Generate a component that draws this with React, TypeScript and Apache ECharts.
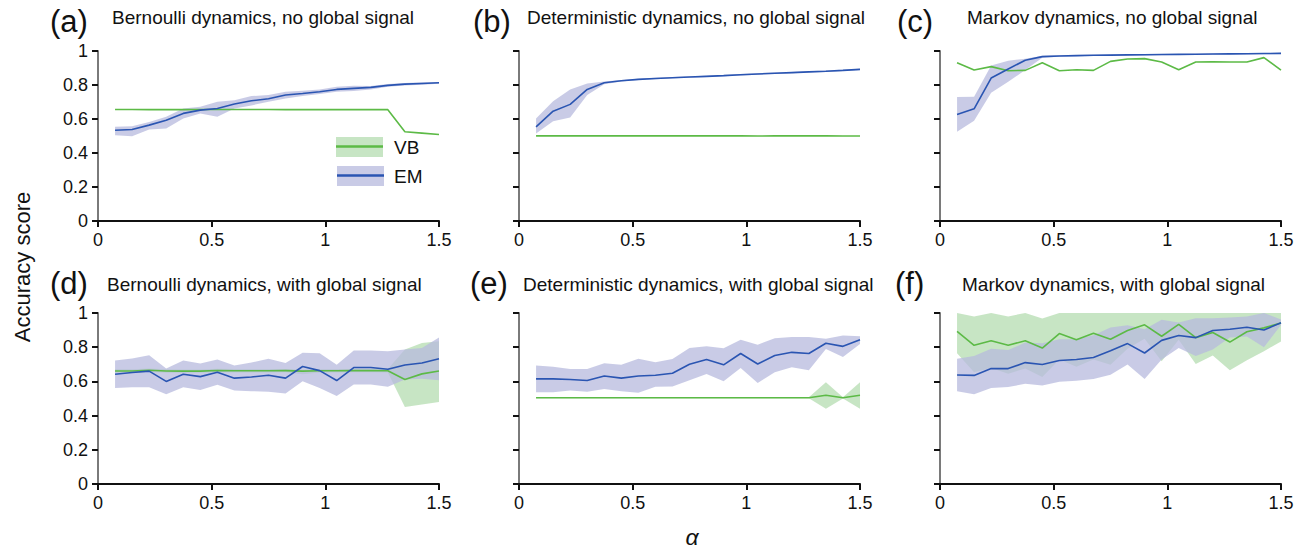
import React, { useEffect, useRef } from "react";
import * as echarts from "echarts";

// x positions (alpha)
const alphaValues = [0.075, 0.15, 0.225, 0.3, 0.375, 0.45, 0.525, 0.6, 0.675, 0.75, 0.825, 0.9, 0.975, 1.05, 1.125, 1.2, 1.275, 1.35, 1.425, 1.5];
const xTicks = [0, 0.5, 1, 1.5];
const yTicks = [0, 0.2, 0.4, 0.6, 0.8, 1];

// (a) Bernoulli, no global signal
const emA = [0.534, 0.538, 0.564, 0.593, 0.633, 0.652, 0.662, 0.688, 0.707, 0.719, 0.741, 0.75, 0.76, 0.774, 0.78, 0.786, 0.798, 0.805, 0.809, 0.813];
const emALo = [0.505, 0.499, 0.538, 0.544, 0.603, 0.633, 0.613, 0.662, 0.68, 0.701, 0.721, 0.735, 0.747, 0.76, 0.764, 0.774, 0.79, 0.797, 0.802, 0.808];
const emAHi = [0.554, 0.558, 0.583, 0.613, 0.662, 0.672, 0.701, 0.711, 0.735, 0.741, 0.76, 0.766, 0.774, 0.79, 0.796, 0.794, 0.806, 0.812, 0.816, 0.818];
const vbA = [0.656, 0.656, 0.655, 0.656, 0.655, 0.656, 0.656, 0.656, 0.656, 0.656, 0.655, 0.655, 0.655, 0.655, 0.655, 0.656, 0.655, 0.525, 0.517, 0.509];

// (b) Deterministic, no global signal
const emB = [0.554, 0.646, 0.686, 0.774, 0.813, 0.825, 0.833, 0.838, 0.843, 0.847, 0.851, 0.855, 0.86, 0.865, 0.869, 0.873, 0.877, 0.881, 0.886, 0.892];
const emBLo = [0.515, 0.587, 0.609, 0.741, 0.805, 0.82, 0.829, 0.834, 0.839, 0.843, 0.847, 0.851, 0.856, 0.861, 0.865, 0.869, 0.873, 0.877, 0.882, 0.888];
const emBHi = [0.603, 0.705, 0.774, 0.809, 0.82, 0.83, 0.837, 0.842, 0.847, 0.851, 0.855, 0.859, 0.864, 0.869, 0.873, 0.877, 0.881, 0.885, 0.89, 0.896];
const vbB = [0.501, 0.501, 0.501, 0.501, 0.501, 0.501, 0.501, 0.501, 0.501, 0.501, 0.501, 0.501, 0.501, 0.5, 0.501, 0.501, 0.501, 0.501, 0.5, 0.5];

// (c) Markov, no global signal
const emC = [0.627, 0.66, 0.841, 0.894, 0.946, 0.967, 0.971, 0.973, 0.975, 0.976, 0.977, 0.978, 0.979, 0.98, 0.981, 0.982, 0.983, 0.984, 0.985, 0.986];
const emCLo = [0.525, 0.589, 0.754, 0.819, 0.888, 0.96, 0.966, 0.969, 0.971, 0.972, 0.973, 0.974, 0.975, 0.976, 0.977, 0.978, 0.979, 0.98, 0.981, 0.982];
const emCHi = [0.729, 0.731, 0.914, 0.943, 0.955, 0.972, 0.975, 0.976, 0.978, 0.979, 0.98, 0.981, 0.982, 0.983, 0.984, 0.985, 0.986, 0.987, 0.988, 0.989];
const vbC = [0.931, 0.888, 0.908, 0.884, 0.886, 0.931, 0.884, 0.89, 0.886, 0.939, 0.953, 0.955, 0.935, 0.89, 0.935, 0.937, 0.935, 0.935, 0.961, 0.888];

// (d) Bernoulli, with global signal
const emD = [0.642, 0.652, 0.66, 0.6, 0.642, 0.628, 0.654, 0.619, 0.626, 0.636, 0.619, 0.687, 0.663, 0.605, 0.681, 0.681, 0.671, 0.696, 0.708, 0.732];
const emDLo = [0.562, 0.566, 0.566, 0.525, 0.566, 0.55, 0.58, 0.547, 0.543, 0.539, 0.529, 0.601, 0.562, 0.514, 0.582, 0.582, 0.568, 0.611, 0.615, 0.607];
const emDHi = [0.722, 0.734, 0.753, 0.675, 0.722, 0.704, 0.728, 0.693, 0.71, 0.733, 0.708, 0.767, 0.765, 0.698, 0.78, 0.78, 0.776, 0.786, 0.796, 0.856];
const vbD = [0.661, 0.661, 0.665, 0.661, 0.66, 0.66, 0.664, 0.662, 0.662, 0.662, 0.663, 0.66, 0.662, 0.662, 0.663, 0.663, 0.662, 0.611, 0.644, 0.661];
const vbDLo = [0.651, 0.651, 0.655, 0.651, 0.65, 0.65, 0.654, 0.652, 0.652, 0.652, 0.653, 0.642, 0.652, 0.652, 0.653, 0.653, 0.652, 0.451, 0.465, 0.479];
const vbDHi = [0.671, 0.671, 0.675, 0.671, 0.67, 0.67, 0.674, 0.672, 0.672, 0.672, 0.673, 0.67, 0.672, 0.672, 0.673, 0.673, 0.672, 0.786, 0.825, 0.835];

// (e) Deterministic, with global signal
const emE = [0.615, 0.615, 0.611, 0.605, 0.632, 0.619, 0.632, 0.636, 0.648, 0.7, 0.728, 0.697, 0.763, 0.702, 0.751, 0.77, 0.763, 0.823, 0.805, 0.844];
const emELo = [0.537, 0.537, 0.547, 0.539, 0.556, 0.543, 0.533, 0.568, 0.57, 0.607, 0.644, 0.601, 0.679, 0.591, 0.654, 0.683, 0.665, 0.79, 0.743, 0.819];
const emEHi = [0.693, 0.685, 0.673, 0.673, 0.706, 0.697, 0.733, 0.712, 0.731, 0.796, 0.805, 0.794, 0.844, 0.815, 0.852, 0.86, 0.86, 0.85, 0.868, 0.864];
const vbE = [0.504, 0.504, 0.504, 0.504, 0.504, 0.504, 0.504, 0.504, 0.504, 0.504, 0.504, 0.504, 0.504, 0.504, 0.504, 0.504, 0.504, 0.519, 0.504, 0.519];
const vbELo = [0.501, 0.501, 0.501, 0.501, 0.501, 0.501, 0.501, 0.501, 0.501, 0.501, 0.501, 0.501, 0.501, 0.501, 0.501, 0.501, 0.501, 0.44, 0.5, 0.44];
const vbEHi = [0.507, 0.507, 0.507, 0.507, 0.507, 0.507, 0.507, 0.507, 0.507, 0.507, 0.507, 0.507, 0.507, 0.507, 0.507, 0.507, 0.507, 0.595, 0.508, 0.595];

// (f) Markov, with global signal
const emF = [0.637, 0.635, 0.675, 0.675, 0.71, 0.699, 0.722, 0.728, 0.74, 0.779, 0.821, 0.766, 0.84, 0.868, 0.856, 0.898, 0.905, 0.917, 0.901, 0.943];
const emFLo = [0.543, 0.525, 0.561, 0.567, 0.586, 0.576, 0.598, 0.604, 0.614, 0.639, 0.699, 0.614, 0.728, 0.796, 0.748, 0.787, 0.856, 0.862, 0.8, 0.93];
const emFHi = [0.733, 0.748, 0.791, 0.783, 0.827, 0.823, 0.846, 0.846, 0.87, 0.915, 0.929, 0.905, 0.96, 0.945, 0.97, 0.97, 0.974, 0.98, 1.0, 0.962];
const vbF = [0.892, 0.811, 0.838, 0.811, 0.838, 0.795, 0.88, 0.844, 0.882, 0.846, 0.898, 0.931, 0.864, 0.933, 0.856, 0.886, 0.83, 0.89, 0.913, 0.941];
const vbFLo = [0.765, 0.653, 0.679, 0.645, 0.675, 0.626, 0.728, 0.685, 0.728, 0.698, 0.791, 0.85, 0.718, 0.844, 0.702, 0.752, 0.665, 0.724, 0.777, 0.833];
const vbFHi = [1.0, 0.98, 1.0, 0.98, 1.0, 0.968, 1.0, 1.0, 1.0, 1.0, 1.0, 1.0, 1.0, 1.0, 1.0, 1.0, 1.0, 1.0, 1.0, 1.0];

const panelLabels = ["(a)", "(b)", "(c)", "(d)", "(e)", "(f)"];
const panelTitles = [
  "Bernoulli dynamics, no global signal",
  "Deterministic dynamics, no global signal",
  "Markov dynamics, no global signal",
  "Bernoulli dynamics, with global signal",
  "Deterministic dynamics, with global signal",
  "Markov dynamics, with global signal",
];
const legendNames = ["VB", "EM"];
const yAxisName = "Accuracy score";
const xAxisName = "α";

type Band = { lo: number[]; hi: number[] } | null;
type Panel = { em: number[]; emBand: Band; vb: number[]; vbBand: Band };

const panels: Panel[] = [
  { em: emA, emBand: { lo: emALo, hi: emAHi }, vb: vbA, vbBand: null },
  { em: emB, emBand: { lo: emBLo, hi: emBHi }, vb: vbB, vbBand: null },
  { em: emC, emBand: { lo: emCLo, hi: emCHi }, vb: vbC, vbBand: null },
  { em: emD, emBand: { lo: emDLo, hi: emDHi }, vb: vbD, vbBand: { lo: vbDLo, hi: vbDHi } },
  { em: emE, emBand: { lo: emELo, hi: emEHi }, vb: vbE, vbBand: { lo: vbELo, hi: vbEHi } },
  { em: emF, emBand: { lo: emFLo, hi: emFHi }, vb: vbF, vbBand: { lo: vbFLo, hi: vbFHi } },
];

const FONT = "'Liberation Sans', Arial, Helvetica, sans-serif";
const EM_LINE = "#2a55b2";
const VB_LINE = "#5cba46";
const EM_FILL = "rgba(183,186,222,0.75)";
const VB_FILL = "rgba(95,180,85,0.35)";

const gridLefts = [98, 519, 940];
const gridTops = [51, 313];
const gridW = 341;
const gridHs = [170, 171];

const labelPos = [
  { lx: 50, ly: 21, tx: 112, ty: 17 },
  { lx: 473, ly: 21, tx: 527, ty: 17 },
  { lx: 897, ly: 21, tx: 967, ty: 17 },
  { lx: 50, ly: 283, tx: 107, ty: 284 },
  { lx: 470, ly: 283, tx: 523, ty: 284 },
  { lx: 895, ly: 283, tx: 962, ty: 284 },
];

function makeBandRender(fill: string) {
  return (params: any, api: any) => {
    if (params.dataIndexInside !== 0) return null;
    const n = params.dataInsideLength;
    const top: number[][] = [];
    const bot: number[][] = [];
    for (let i = 0; i < n; i++) {
      const x = api.value(0, i);
      top.push(api.coord([x, api.value(2, i)]));
      bot.push(api.coord([x, api.value(1, i)]));
    }
    return {
      type: "polygon",
      silent: true,
      shape: { points: top.concat(bot.reverse()) },
      style: { fill, stroke: "none" },
    };
  };
}

export default function App() {
  const ref = useRef<HTMLDivElement>(null);

  useEffect(() => {
    document.body.style.margin = "0";
    if (!ref.current) return;
    const chart = echarts.init(ref.current, null, { renderer: "svg" });

    const grids: any[] = [];
    const xAxes: any[] = [];
    const yAxes: any[] = [];
    const series: any[] = [];
    const graphics: any[] = [];

    panels.forEach((p, i) => {
      const row = Math.floor(i / 3);
      const col = i % 3;
      grids.push({ left: gridLefts[col], top: gridTops[row], width: gridW, height: gridHs[row], containLabel: false });
      xAxes.push({
        type: "value",
        gridIndex: i,
        min: xTicks[0],
        max: xTicks[xTicks.length - 1],
        interval: 0.5,
        axisLine: { show: true, onZero: false, lineStyle: { color: "#111", width: 2 } },
        axisTick: { show: true, length: 6, lineStyle: { color: "#111", width: 2 } },
        axisLabel: { show: true, color: "#111", fontSize: 18, fontFamily: FONT, margin: 10 },
        splitLine: { show: false },
      });
      yAxes.push({
        type: "value",
        gridIndex: i,
        min: yTicks[0],
        max: yTicks[yTicks.length - 1],
        interval: 0.2,
        axisLine: { show: true, onZero: false, lineStyle: { color: "#7a7a7a", width: 2 } },
        axisTick: { show: true, length: 6, lineStyle: { color: "#111", width: 2 } },
        axisLabel: { show: col === 0, color: "#111", fontSize: 18, fontFamily: FONT, margin: 10 },
        splitLine: { show: false },
      });

      if (p.vbBand) {
        series.push({
          type: "custom",
          xAxisIndex: i,
          yAxisIndex: i,
          renderItem: makeBandRender(VB_FILL),
          encode: { x: 0, y: [1, 2] },
          data: alphaValues.map((x, k) => [x, p.vbBand!.lo[k], p.vbBand!.hi[k]]),
          z: 1,
          silent: true,
        });
      }
      if (p.emBand) {
        series.push({
          type: "custom",
          xAxisIndex: i,
          yAxisIndex: i,
          renderItem: makeBandRender(EM_FILL),
          encode: { x: 0, y: [1, 2] },
          data: alphaValues.map((x, k) => [x, p.emBand!.lo[k], p.emBand!.hi[k]]),
          z: 2,
          silent: true,
        });
      }
      series.push({
        type: "line",
        name: legendNames[0],
        xAxisIndex: i,
        yAxisIndex: i,
        data: alphaValues.map((x, k) => [x, p.vb[k]]),
        symbol: "none",
        lineStyle: { color: VB_LINE, width: 1.6 },
        z: 3,
        silent: true,
      });
      series.push({
        type: "line",
        name: legendNames[1],
        xAxisIndex: i,
        yAxisIndex: i,
        data: alphaValues.map((x, k) => [x, p.em[k]]),
        symbol: "none",
        lineStyle: { color: EM_LINE, width: 1.6 },
        z: 4,
        silent: true,
      });

      const lp = labelPos[i];
      graphics.push({
        type: "text",
        x: lp.lx,
        y: lp.ly,
        style: { text: panelLabels[i], font: `31px ${FONT}`, fill: "#111", align: "left", verticalAlign: "middle" },
      });
      graphics.push({
        type: "text",
        x: lp.tx,
        y: lp.ty,
        style: { text: panelTitles[i], font: `19px ${FONT}`, fill: "#111", align: "left", verticalAlign: "middle" },
      });
    });

    // Legend in panel (a)
    graphics.push({ type: "rect", shape: { x: 336, y: 137, width: 47, height: 20 }, style: { fill: VB_FILL } });
    graphics.push({ type: "line", shape: { x1: 336, y1: 146.5, x2: 383, y2: 146.5 }, style: { stroke: VB_LINE, lineWidth: 2.5 } });
    graphics.push({
      type: "text",
      x: 394,
      y: 147,
      style: { text: legendNames[0], font: `19px ${FONT}`, fill: "#111", align: "left", verticalAlign: "middle" },
    });
    graphics.push({ type: "rect", shape: { x: 337, y: 166, width: 47, height: 20 }, style: { fill: EM_FILL } });
    graphics.push({ type: "line", shape: { x1: 337, y1: 175.5, x2: 384, y2: 175.5 }, style: { stroke: EM_LINE, lineWidth: 2.5 } });
    graphics.push({
      type: "text",
      x: 394,
      y: 176,
      style: { text: legendNames[1], font: `19px ${FONT}`, fill: "#111", align: "left", verticalAlign: "middle" },
    });

    // Shared axis names
    graphics.push({
      type: "text",
      x: 22,
      y: 267,
      rotation: Math.PI / 2,
      style: { text: yAxisName, font: `22px ${FONT}`, fill: "#111", align: "center", verticalAlign: "middle" },
    });
    graphics.push({
      type: "text",
      x: 692,
      y: 537,
      style: { text: xAxisName, font: `italic 23px ${FONT}`, fill: "#111", align: "center", verticalAlign: "middle" },
    });

    chart.setOption({
      animation: false,
      backgroundColor: "#ffffff",
      grid: grids,
      xAxis: xAxes,
      yAxis: yAxes,
      series,
      graphic: graphics,
    });

    return () => chart.dispose();
  }, []);

  return <div ref={ref} style={{ width: 1311, height: 552 }} />;
}
